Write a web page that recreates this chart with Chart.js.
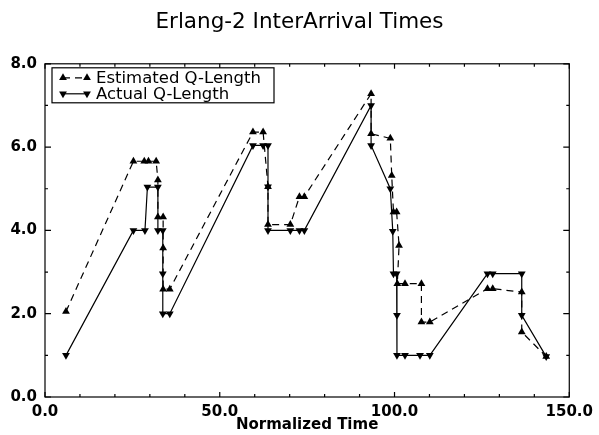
<!DOCTYPE html>
<html>
<head>
<meta charset="utf-8">
<script src="https://cdn.jsdelivr.net/npm/chart.js@4.4.1/dist/chart.umd.min.js"></script>
<style>
  html, body { margin: 0; padding: 0; background: #fff; }
  #plot { display: block; }
</style>
</head>
<body>
<canvas id="plot" width="599" height="435"></canvas>
<script>
// ── Data ──────────────────────────────────────────────────────
const estTime = [6.0, 25.3, 28.4, 29.6, 31.8, 32.3, 32.3, 33.8, 33.8, 33.8, 35.7,
                 59.5, 62.4, 63.8, 63.8, 70.2, 72.8, 74.2,
                 93.3, 93.3, 98.8, 99.2, 99.7, 100.6, 101.3, 100.8, 103.0, 107.7, 107.7, 110.1,
                 126.6, 128.1, 136.4, 136.4, 143.4];
const estQ    = [2.05, 5.66, 5.66, 5.66, 5.66, 5.21, 4.32, 4.32, 3.58, 2.59, 2.59,
                 6.36, 6.36, 5.05, 4.14, 4.14, 4.81, 4.81,
                 7.28, 6.32, 6.21, 5.32, 4.44, 4.44, 3.64, 2.72, 2.72, 2.72, 1.80, 1.80,
                 2.60, 2.60, 2.52, 1.56, 0.97];

const actTime = [6.0, 25.3, 28.6, 29.3, 32.3, 32.3, 33.7, 33.7, 33.7, 35.7,
                 59.5, 62.4, 63.8, 63.8, 63.8, 70.2, 72.8, 74.2,
                 93.3, 93.3, 98.8, 99.5, 99.7, 100.6, 100.7, 100.7, 103.0, 107.3, 110.1,
                 126.6, 128.1, 136.4, 136.4, 143.4];
const actQ    = [1.0, 4.0, 4.0, 5.04, 5.04, 4.0, 4.0, 2.96, 2.0, 2.0,
                 6.04, 6.04, 6.04, 5.05, 4.0, 4.0, 4.0, 4.0,
                 7.0, 6.04, 5.0, 3.98, 2.96, 2.96, 1.96, 1.0, 1.0, 1.0, 1.0,
                 2.96, 2.96, 2.96, 1.96, 0.97];

const xLabels = [0, 50, 100, 150];   // labelled x ticks
const yLabels = [0, 2, 4, 6, 8];     // labelled y ticks
const xStep = 10, yStep = 1;

const seriesNames = ['Estimated Q-Length', 'Actual Q-Length'];

const FONT = "'DejaVu Sans', 'Liberation Sans', Arial, sans-serif";

function toPoints(xs, ys) { return xs.map((x, i) => ({ x, y: ys[i] })); }

// ── Triangle marker helper (legend) ───────────────────────────
function triangle(ctx, cx, cy, r, down) {
  const h = r * 1.5, w = r * Math.sqrt(3) / 2;
  ctx.beginPath();
  if (down) {
    ctx.moveTo(cx - w, cy - h / 3); ctx.lineTo(cx + w, cy - h / 3); ctx.lineTo(cx, cy + h * 2 / 3);
  } else {
    ctx.moveTo(cx - w, cy + h / 3); ctx.lineTo(cx + w, cy + h / 3); ctx.lineTo(cx, cy - h * 2 / 3);
  }
  ctx.closePath();
  ctx.fill();
}

// ── Box frame with inward ticks on all four sides ─────────────
const frameTicks = {
  id: 'frameTicks',
  afterDatasetsDraw(chart) {
    const { ctx, chartArea: a, scales: { x, y } } = chart;
    ctx.save();
    ctx.strokeStyle = '#000';
    ctx.lineWidth = 1.2;
    ctx.strokeRect(a.left, a.top, a.right - a.left, a.bottom - a.top);
    ctx.beginPath();
    x.ticks.forEach(t => {
      const px = x.getPixelForValue(t.value);
      const len = xLabels.includes(t.value) ? 5 : 3;
      ctx.moveTo(px, a.bottom); ctx.lineTo(px, a.bottom - len);
      ctx.moveTo(px, a.top);    ctx.lineTo(px, a.top + len);
    });
    y.ticks.forEach(t => {
      const py = y.getPixelForValue(t.value);
      const len = yLabels.includes(t.value) ? 6 : 3;
      ctx.moveTo(a.left, py);  ctx.lineTo(a.left + len, py);
      ctx.moveTo(a.right, py); ctx.lineTo(a.right - len, py);
    });
    ctx.stroke();
    ctx.restore();
  }
};

// ── Boxed legend: marker—line—marker + label ──────────────────
const boxLegend = {
  id: 'boxLegend',
  afterDraw(chart) {
    const { ctx, chartArea: a } = chart;
    const bx = a.left + 7, by = a.top + 4, bw = 222, bh = 35;
    ctx.save();
    ctx.fillStyle = '#fff';
    ctx.fillRect(bx, by, bw, bh);
    ctx.strokeStyle = '#000';
    ctx.lineWidth = 1.2;
    ctx.strokeRect(bx, by, bw, bh);

    chart.data.datasets.forEach((ds, i) => {
      const cy = by + 10 + i * 16;
      const x0 = bx + 11, x1 = bx + 35;
      ctx.strokeStyle = '#000';
      ctx.lineWidth = 1.2;
      ctx.setLineDash(ds.borderDash || []);
      ctx.beginPath(); ctx.moveTo(x0, cy); ctx.lineTo(x1, cy); ctx.stroke();
      ctx.setLineDash([]);
      ctx.fillStyle = '#000';
      triangle(ctx, x0, cy, 4.5, i === 1);
      triangle(ctx, x1, cy, 4.5, i === 1);
      ctx.font = `16.5px ${FONT}`;
      ctx.textBaseline = 'middle';
      ctx.textAlign = 'left';
      ctx.fillText(ds.label, bx + 44, cy + 1);
    });
    ctx.restore();
  }
};

new Chart(document.getElementById('plot').getContext('2d'), {
  type: 'line',
  data: {
    datasets: [
      {
        label: seriesNames[0],
        data: toPoints(estTime, estQ),
        borderColor: '#000', backgroundColor: '#000',
        borderWidth: 1.2, borderDash: [7, 5],
        pointStyle: 'triangle', pointRadius: 4.5, pointRotation: 0,
        pointBorderWidth: 0, tension: 0,
      },
      {
        label: seriesNames[1],
        data: toPoints(actTime, actQ),
        borderColor: '#000', backgroundColor: '#000',
        borderWidth: 1.2,
        pointStyle: 'triangle', pointRadius: 4.5, pointRotation: 180,
        pointBorderWidth: 0, tension: 0,
      },
    ],
  },
  options: {
    responsive: false,
    animation: false,
    layout: { padding: 0 },
    plugins: {
      legend: { display: false },
      tooltip: { enabled: false },
      title: {
        display: true,
        text: 'Erlang-2 InterArrival Times',
        color: '#000',
        font: { family: FONT, size: 21.5, weight: 'normal' },
        padding: { top: 10, bottom: 28 },
      },
    },
    scales: {
      x: {
        type: 'linear', min: 0, max: 150,
        afterFit: s => { s.height = 38; },
        grid: { display: false, drawTicks: false },
        border: { display: false },
        ticks: {
          stepSize: xStep, autoSkip: false, maxRotation: 0, padding: 6,
          color: '#000',
          font: { family: FONT, size: 15, weight: 'bold' },
          callback: v => xLabels.includes(v) ? v.toFixed(1) : '',
        },
        title: {
          display: true, text: 'Normalized Time', color: '#000',
          font: { family: FONT, size: 15, weight: 'bold' },
          padding: { top: 0, bottom: 1 },
        },
      },
      y: {
        min: 0, max: 8,
        afterFit: s => { s.width = 45; },
        grid: { display: false, drawTicks: false },
        border: { display: false },
        ticks: {
          stepSize: yStep, autoSkip: false, padding: 8,
          color: '#000',
          font: { family: FONT, size: 15, weight: 'bold' },
          callback: v => yLabels.includes(v) ? v.toFixed(1) : '',
        },
      },
      // empty right-hand gutter so the title stays centred on the page
      yGutter: {
        position: 'right', min: 0, max: 8,
        afterFit: s => { s.width = 25; },
        grid: { display: false, drawTicks: false },
        border: { display: false },
        ticks: { display: false },
      },
    },
  },
  plugins: [frameTicks, boxLegend],
});
</script>
</body>
</html>
